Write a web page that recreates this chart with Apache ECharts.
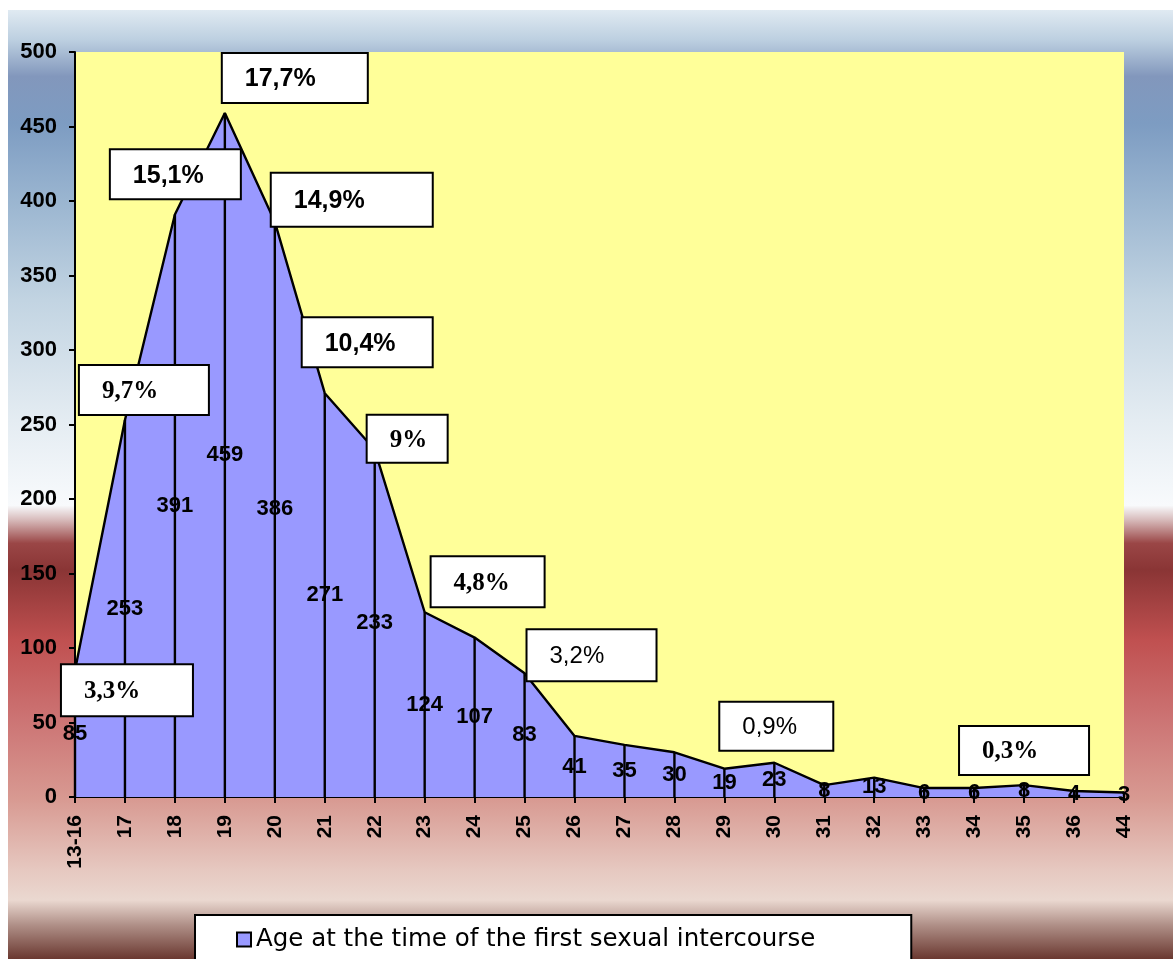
<!DOCTYPE html>
<html>
<head>
<meta charset="utf-8">
<script src="https://cdn.jsdelivr.net/npm/echarts/dist/echarts.min.js"></script>
<style>
  html, body { margin: 0; padding: 0; background: #ffffff; }
  #chart { position: absolute; left: 8px; top: 10px; width: 1165px; height: 949px; }
</style>
</head>
<body>
<div id="chart"></div>
<script>
// Age groups on the horizontal axis
const categories = ['13-16', '17', '18', '19', '20', '21', '22', '23', '24', '25', '26',
  '27', '28', '29', '30', '31', '32', '33', '34', '35', '36', '44'];

// Number of respondents per age
const counts = [85, 253, 391, 459, 386, 271, 233, 124, 107, 83, 41,
  35, 30, 19, 23, 8, 13, 6, 6, 8, 4, 3];

// Share of respondents shown in the callout boxes ('' = no callout)
const shareLabels = ['3,3%', '9,7%', '15,1%', '17,7%', '14,9%', '10,4%', '9%', '4,8%', '', '3,2%', '',
  '', '', '', '0,9%', '', '', '', '', '0,3%', '', ''];

// Value axis range
const yMin = 0;
const yMax = 500;
const yStep = 50;

const seriesName = 'Age at the time of the first sexual intercourse';

// Callout box placement relative to its data point: left edge offset, vertical centre offset, box size, font
const SERIF_B = { fontFamily: 'Liberation Serif', fontWeight: 'bold', fontSize: 25 };
const SANS_B = { fontFamily: 'Liberation Sans', fontWeight: 'bold', fontSize: 25 };
const SANS_N = { fontFamily: 'Liberation Sans', fontWeight: 'normal', fontSize: 24 };
const calloutBoxes = {
  0:  { dx: -13, dy: 20,    w: 130, h: 50, font: SERIF_B },
  1:  { dx: -45, dy: -30,   w: 128, h: 48, font: SERIF_B },
  2:  { dx: -64, dy: -40,   w: 129, h: 48, font: SANS_B },
  3:  { dx: -2,  dy: -35,   w: 144, h: 48, font: SANS_B },
  4:  { dx: -3,  dy: -22,   w: 160, h: 52, font: SANS_B },
  5:  { dx: -22, dy: -51,   w: 129, h: 48, font: SANS_B },
  6:  { dx: -7,  dy: -11,   w: 79,  h: 46, font: SERIF_B },
  7:  { dx: 7,   dy: -30.5, w: 112, h: 49, font: SERIF_B },
  9:  { dx: 3,   dy: -18,   w: 128, h: 50, font: SANS_N },
  14: { dx: -54, dy: -36.5, w: 112, h: 47, font: SANS_N },
  19: { dx: -64, dy: -34.5, w: 128, h: 47, font: SERIF_B }
};
const TEXT_INSET = 22;

const calloutData = counts.map(function (v, i) {
  const box = calloutBoxes[i];
  if (!shareLabels[i] || !box) {
    return { value: v, label: { show: false } };
  }
  return {
    value: v,
    label: Object.assign({
      show: true,
      position: [box.dx, box.dy - box.h / 2],
      formatter: shareLabels[i],
      align: 'left',
      verticalAlign: 'top',
      color: '#000000',
      backgroundColor: '#ffffff',
      borderColor: '#000000',
      borderWidth: 2,
      padding: [0, 0, 0, TEXT_INSET],
      width: box.w - TEXT_INSET,
      height: box.h,
      lineHeight: box.h + 3
    }, box.font)
  };
});

const chart = echarts.init(document.getElementById('chart'), null, { renderer: 'canvas' });

const option = {
  animation: false,
  backgroundColor: {
    type: 'linear', x: 0, y: 0, x2: 0, y2: 1,
    colorStops: [
      { offset: 0.000, color: '#e0eaf2' },
      { offset: 0.032, color: '#bccfe0' },
      { offset: 0.070, color: '#8297bc' },
      { offset: 0.120, color: '#7d9cc2' },
      { offset: 0.200, color: '#9ab5d0' },
      { offset: 0.306, color: '#c2d4e2' },
      { offset: 0.432, color: '#e4ecf2' },
      { offset: 0.522, color: '#f8fafc' },
      { offset: 0.537, color: '#d8bcbc' },
      { offset: 0.562, color: '#9a4646' },
      { offset: 0.590, color: '#8a3535' },
      { offset: 0.664, color: '#c05050' },
      { offset: 0.748, color: '#cc7474' },
      { offset: 0.832, color: '#d89a92' },
      { offset: 0.906, color: '#e6c8c0' },
      { offset: 0.938, color: '#ead8d0' },
      { offset: 0.964, color: '#b09088' },
      { offset: 1.000, color: '#6a3830' }
    ]
  },
  grid: {
    left: 67, right: 49, top: 42, bottom: 162,
    show: true, backgroundColor: '#ffff99', borderWidth: 0,
    outerBoundsMode: 'none'
  },
  legend: {
    left: 187, top: 905,
    padding: [12, 96, 40, 41],
    backgroundColor: '#ffffff',
    borderColor: '#000000', borderWidth: 2,
    itemWidth: 14, itemHeight: 14,
    itemStyle: { color: '#9999ff', borderColor: '#000000', borderWidth: 2 },
    textStyle: { fontFamily: 'DejaVu Sans', fontSize: 24.5, color: '#000000' },
    data: [{ name: seriesName, icon: 'rect' }],
    selectedMode: false
  },
  xAxis: {
    type: 'category',
    data: categories,
    boundaryGap: false,
    axisLine: { show: true, lineStyle: { color: '#000000', width: 2 } },
    axisTick: { show: true, length: 6, interval: 0, lineStyle: { color: '#000000', width: 2 } },
    axisLabel: {
      interval: 0, rotate: 90, margin: 18,
      color: '#000000', fontFamily: 'Liberation Sans', fontWeight: 'bold', fontSize: 21
    },
    splitLine: { show: false }
  },
  yAxis: {
    type: 'value',
    min: yMin, max: yMax, interval: yStep,
    axisLine: { show: true, lineStyle: { color: '#000000', width: 2 } },
    axisTick: { show: true, length: 6, lineStyle: { color: '#000000', width: 2 } },
    axisLabel: {
      margin: 18, color: '#000000',
      fontFamily: 'Liberation Sans', fontWeight: 'bold', fontSize: 22
    },
    splitLine: { show: false }
  },
  series: [
    {
      // filled area under the age distribution
      name: seriesName,
      type: 'line',
      data: counts,
      z: 2,
      color: '#9999ff',
      symbol: 'none',
      lineStyle: { color: '#000000', width: 2.4 },
      areaStyle: { color: '#9999ff', opacity: 1 },
      itemStyle: { color: '#9999ff' }
    },
    {
      // drop lines with the counts centred on them
      name: 'counts',
      type: 'bar',
      data: counts,
      z: 3,
      barWidth: 2.4,
      itemStyle: { color: '#000000' },
      label: {
        show: true,
        position: 'inside',
        formatter: '{c}',
        color: '#000000',
        fontFamily: 'Liberation Sans', fontWeight: 'bold', fontSize: 22
      },
      labelLayout: { hideOverlap: false }
    },
    {
      // percentage callouts
      name: 'shares',
      type: 'scatter',
      data: calloutData,
      z: 5,
      symbolSize: 0.1,
      itemStyle: { color: 'rgba(0,0,0,0)', opacity: 1 },
      emphasis: { disabled: true }
    }
  ]
};

chart.setOption(option);
</script>
</body>
</html>
